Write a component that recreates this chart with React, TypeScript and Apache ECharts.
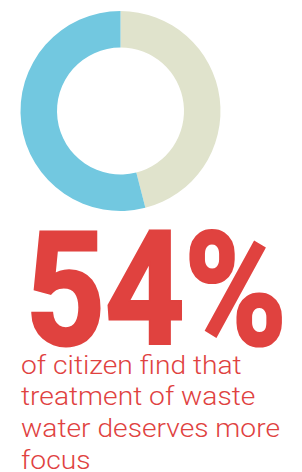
import React, { useEffect, useRef } from "react";
import * as echarts from "echarts";

const sliceNames = ["Other", "Deserves more focus"];
const sliceValues = [46, 54];
const sliceColors = ["#E0E3CC", "#72C8E0"];
const headline = "54%";
const captionLines = [
  "of citizen find that",
  "treatment of waste",
  "water deserves more",
  "focus",
];

export default function App() {
  const ref = useRef<HTMLDivElement>(null);
  useEffect(() => {
    if (!ref.current) return;
    const chart = echarts.init(ref.current, undefined, { renderer: "svg" });
    const red = "#E0423F";
    chart.setOption({
      animation: false,
      series: [
        {
          type: "pie",
          center: [120.5, 111],
          radius: [63.5, 100],
          startAngle: 90,
          clockwise: true,
          label: { show: false },
          labelLine: { show: false },
          silent: true,
          itemStyle: { borderWidth: 0 },
          data: sliceNames.map((n, i) => ({
            name: n,
            value: sliceValues[i],
            itemStyle: { color: sliceColors[i] },
          })),
        },
      ],
      graphic: [
        {
          type: "text",
          x: 25.5,
          y: 211.5,
          scaleX: 0.865,
          scaleY: 0.985,
          style: {
            x: 0,
            y: 0,
            text: headline,
            fill: red,
            stroke: red,
            lineWidth: 3,
            align: "left",
            verticalAlign: "top",
            font: 'bold 160px Roboto, sans-serif',
          },
        },
        ...captionLines.map((t, i) => ({
          type: "text",
          x: 21,
          y: 354.1 + i * 31.7,
          scaleX: 1.085,
          style: {
            x: 0,
            y: 0,
            text: t,
            fill: red,
            align: "left",
            verticalAlign: "top",
            lineHeight: 22,
            font: '300 26px Roboto, sans-serif',
          },
        })),
      ],
    });
    return () => chart.dispose();
  }, []);
  return (
    <div
      ref={ref}
      style={{ position: "fixed", left: 0, top: 0, width: 302, height: 472, background: "#fff" }}
    />
  );
}
